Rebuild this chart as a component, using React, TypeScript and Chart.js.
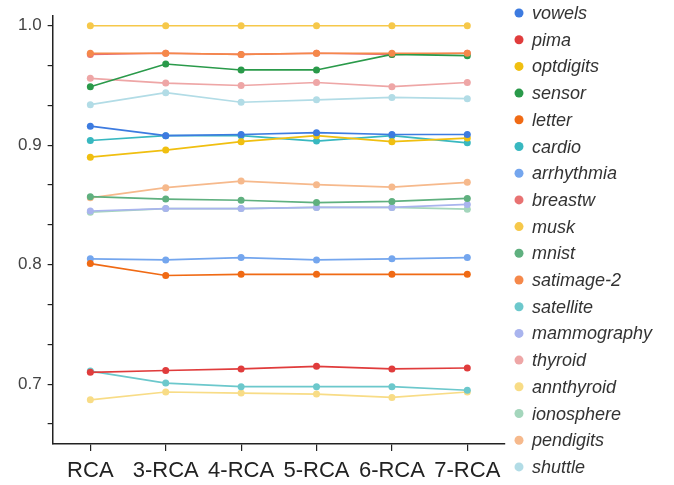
import React, { useEffect, useRef } from "react";
import { Chart, registerables } from "chart.js";

Chart.register(...registerables);

const categories = ["RCA", "3-RCA", "4-RCA", "5-RCA", "6-RCA", "7-RCA"];

const seriesNames = [
  "vowels", "pima", "optdigits", "sensor", "letter", "cardio", "arrhythmia", "breastw", "musk",
  "mnist", "satimage-2", "satellite", "mammography", "thyroid", "annthyroid", "ionosphere", "pendigits", "shuttle",
];

const vowels = [0.916, 0.908, 0.909, 0.9105, 0.909, 0.909];
const pima = [0.71, 0.7115, 0.7128, 0.715, 0.7128, 0.7136];
const optdigits = [0.89, 0.896, 0.903, 0.908, 0.903, 0.906];
const sensor = [0.949, 0.968, 0.963, 0.963, 0.976, 0.975];
const letter = [0.801, 0.791, 0.792, 0.792, 0.792, 0.792];
const cardio = [0.904, 0.908, 0.908, 0.9035, 0.908, 0.902];
const arrhythmia = [0.805, 0.804, 0.806, 0.804, 0.805, 0.806];
const breastw = [0.976, 0.977, 0.976, 0.977, 0.976, 0.977];
const musk = [1.0, 1.0, 1.0, 1.0, 1.0, 1.0];
const mnist = [0.857, 0.855, 0.854, 0.852, 0.853, 0.8555];
const satimage2 = [0.977, 0.977, 0.976, 0.977, 0.977, 0.977];
const satellite = [0.711, 0.701, 0.698, 0.698, 0.698, 0.695];
const mammography = [0.845, 0.847, 0.847, 0.848, 0.848, 0.8505];
const thyroid = [0.956, 0.952, 0.95, 0.9525, 0.949, 0.9525];
const annthyroid = [0.687, 0.6935, 0.6926, 0.6918, 0.689, 0.6935];
const ionosphere = [0.844, 0.847, 0.847, 0.848, 0.848, 0.8465];
const pendigits = [0.856, 0.8645, 0.87, 0.867, 0.865, 0.869];
const shuttle = [0.934, 0.944, 0.936, 0.938, 0.94, 0.939];

const seriesValues = [
  vowels, pima, optdigits, sensor, letter, cardio, arrhythmia, breastw, musk,
  mnist, satimage2, satellite, mammography, thyroid, annthyroid, ionosphere, pendigits, shuttle,
];

const seriesColors = [
  "#3d7be0", "#e03c3c", "#f0bf10", "#2a9a4a", "#f06a14", "#38b8c0", "#74a6ee", "#e87272", "#f6c84a",
  "#5fb07f", "#f5884a", "#6cc8cc", "#a9b4ee", "#eea6a6", "#f8dc86", "#a4d6bc", "#f6b98c", "#b2dce6",
];

const yTickLabels = ["0.7", "0.8", "0.9", "1.0"];

const sideLegend = {
  id: "sideLegend",
  afterDraw(chart: any) {
    const ctx = chart.ctx;
    const x0 = chart.chartArea.right + 14;
    const y0 = 13;
    const step = 26.7;
    ctx.save();
    chart.data.datasets.forEach((ds: any, i: number) => {
      const y = y0 + i * step;
      ctx.beginPath();
      ctx.fillStyle = ds.borderColor;
      ctx.arc(x0, y, 4.5, 0, Math.PI * 2);
      ctx.fill();
      ctx.fillStyle = "#333";
      ctx.font = "italic 18px 'Liberation Sans', Arial, sans-serif";
      ctx.textBaseline = "middle";
      ctx.textAlign = "left";
      ctx.fillText(ds.label, x0 + 13, y + 1);
    });
    ctx.restore();
  },
};

export default function App() {
  const ref = useRef<HTMLCanvasElement | null>(null);
  useEffect(() => {
    if (!ref.current) return;
    const chart = new Chart(ref.current, {
      type: "line",
      data: {
        labels: categories,
        datasets: seriesNames.map((name, i) => ({
          label: name,
          data: seriesValues[i],
          borderColor: seriesColors[i],
          backgroundColor: seriesColors[i],
          borderWidth: 1.7,
          pointRadius: 3.5,
          pointBorderWidth: 0,
          tension: 0,
          fill: false,
          order: name === "satimage-2" ? -1 : 0,
        })),
      },
      options: {
        animation: false,
        responsive: false,
        layout: { padding: { top: 15, right: 169, bottom: -6, left: 12 } },
        plugins: { legend: { display: false }, tooltip: { enabled: false } },
        scales: {
          x: {
            offset: true,
            grid: { display: true, drawOnChartArea: false, drawTicks: true, tickLength: 7, color: "#222", lineWidth: 1.2 },
            border: { display: true, color: "#222", width: 1.5 },
            ticks: {
              color: "#222",
              font: { size: 22, family: "'Liberation Sans', Arial, sans-serif", lineHeight: 1.0 },
              padding: 9,
              maxRotation: 0,
            },
          },
          y: {
            min: 0.65,
            max: 1.008,
            afterBuildTicks(axis: any) {
              const ticks: any[] = [];
              for (let k = -1; k <= 9; k++) ticks.push({ value: 0.7 + k / 30 });
              axis.ticks = ticks;
            },
            grid: { display: true, drawOnChartArea: false, drawTicks: true, tickLength: 5, color: "#222", lineWidth: 1.2 },
            border: { display: true, color: "#222", width: 1.5 },
            ticks: {
              color: "#444",
              padding: 6,
              font: { size: 17, family: "'Liberation Sans', Arial, sans-serif" },
              callback(value: any) {
                const v = Number(value);
                const lbl = yTickLabels.find((t) => Math.abs(parseFloat(t) - v) < 1e-6);
                return lbl ?? "";
              },
            },
          },
        },
      },
      plugins: [sideLegend],
    });
    return () => chart.destroy();
  }, []);
  return (
    <div style={{ position: "absolute", left: 0, top: 0, width: 674, height: 485, background: "#fff" }}>
      <canvas ref={ref} width={674} height={485} />
    </div>
  );
}
